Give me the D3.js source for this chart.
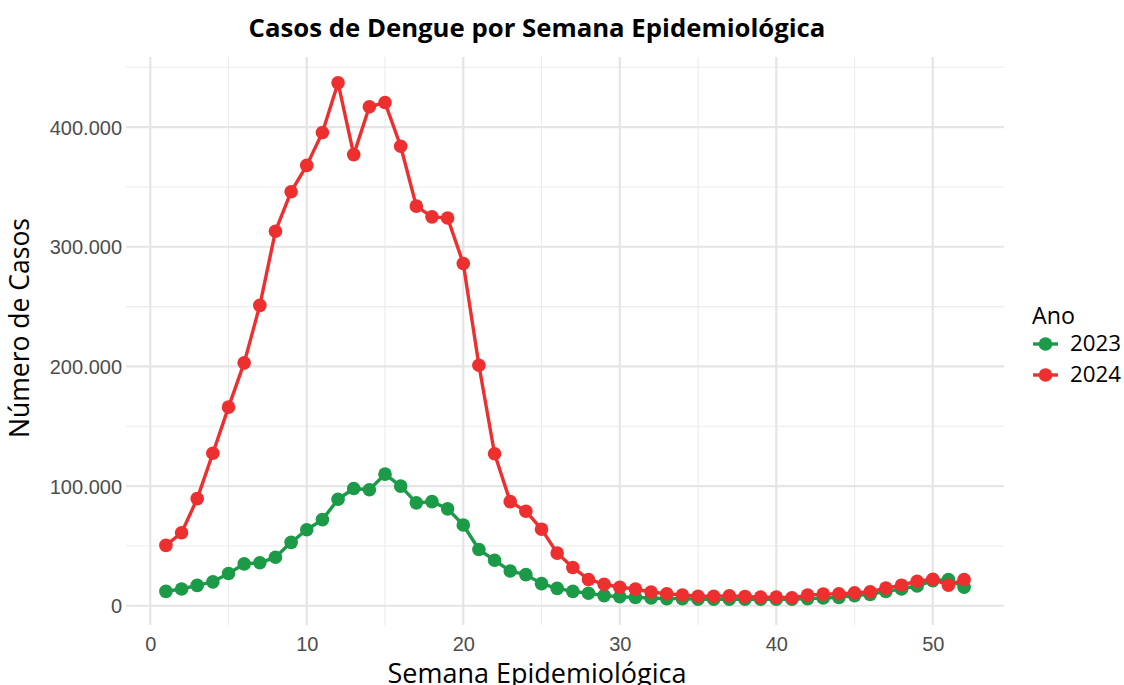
<!DOCTYPE html>
<html><head><meta charset="utf-8">
<script src="https://cdn.jsdelivr.net/npm/d3@7"></script>
<style>body{margin:0;background:#fff}svg{display:block}</style>
</head><body>
<script>
const weeks = d3.range(1, 53);
const cases2023 = [12000,14000,17000,20000,27000,35000,36000,40500,53000,63500,72000,89000,98000,97000,110000,100000,86000,87000,81000,67500,47000,38000,29000,26000,18500,14500,12000,10500,8500,7500,7000,6500,6000,6000,5500,5500,5500,5500,5500,5500,5500,6000,6500,7000,8500,9500,12000,14000,16500,21000,22000,15500];
const cases2024 = [50500,61000,89500,127500,166000,203000,251000,313000,346000,368000,395500,437000,377000,417000,420500,384000,334000,325000,324000,286000,201000,127000,87000,79000,64000,44000,32000,22000,18000,15500,14000,11500,10000,9000,8000,8000,8300,7800,7200,7200,6700,8900,9700,10000,10800,11700,14700,17200,20500,22200,17200,21900];
const years = ["2023", "2024"];
const colors = ["#1B9A48", "#EE2F2F"];
const xTicks = [0, 10, 20, 30, 40, 50];
const yTicks = [0, 100000, 200000, 300000, 400000];
const titleText = "Casos de Dengue por Semana Epidemiológica";
const xTitle = "Semana Epidemiológica";
const yTitle = "Número de Casos";
const legendTitle = "Ano";

(function () {
const W = 1124, H = 685;
const svg = d3.select("body").append("svg").attr("width", W).attr("height", H);
const pL = 126, pR = 1004, pT = 57, pB = 625;
const cx = 537;

function fit(sel, target) {
  const n = sel.node();
  const fs = parseFloat(sel.attr("font-size"));
  const w = n.getComputedTextLength();
  if (w > 0) sel.attr("font-size", (fs * target / w).toFixed(2));
}

const xmin = 1, xmax = 52;
const xe = (xmax - xmin) * 0.05;
const x = d3.scaleLinear().domain([xmin - xe, xmax + xe]).range([pL, pR]);
const allVals = cases2023.concat(cases2024);
const ymin = d3.min(allVals), ymax = d3.max(allVals);
const ye = (ymax - ymin) * 0.05;
const y = d3.scaleLinear().domain([ymin - ye, ymax + ye]).range([pB, pT]);

const grid = svg.append("g");
[5,15,25,35,45].forEach(v => grid.append("line").attr("x1", x(v)).attr("x2", x(v)).attr("y1", pT).attr("y2", pB).attr("stroke", "#EBEBEB").attr("stroke-width", 1.1));
[50000,150000,250000,350000,450000].filter(v => v <= y.domain()[1]).forEach(v => grid.append("line").attr("x1", pL).attr("x2", pR).attr("y1", y(v)).attr("y2", y(v)).attr("stroke", "#EBEBEB").attr("stroke-width", 1.1));
xTicks.forEach(v => grid.append("line").attr("x1", x(v)).attr("x2", x(v)).attr("y1", pT).attr("y2", pB).attr("stroke", "#E5E5E5").attr("stroke-width", 2.2));
yTicks.forEach(v => grid.append("line").attr("x1", pL).attr("x2", pR).attr("y1", y(v)).attr("y2", y(v)).attr("stroke", "#E5E5E5").attr("stroke-width", 2.2));

const tickFont = "Liberation Sans, Arial, sans-serif";
const fmt = v => v === 0 ? "0" : d3.format(",")(v).replace(/,/g, ".");
const yAxis = svg.append("g").attr("transform", `translate(${pL - 4},0)`)
  .call(d3.axisLeft(y).tickValues(yTicks).tickFormat(fmt).tickSize(0).tickPadding(0));
yAxis.select(".domain").remove();
yAxis.selectAll("text").attr("font-family", tickFont).attr("font-size", 20).attr("fill", "#4D4D4D").attr("dy", "0.36em");

const xAxis = svg.append("g").attr("transform", `translate(0,${pB})`)
  .call(d3.axisBottom(x).tickValues(xTicks).tickFormat(d3.format("d")).tickSize(0).tickPadding(12));
xAxis.select(".domain").remove();
xAxis.selectAll("text").attr("font-family", tickFont).attr("font-size", 20).attr("fill", "#4D4D4D");

const series = [cases2023, cases2024];
const line = d3.line().x((d, i) => x(weeks[i])).y(d => y(d));
series.forEach((s, k) => {
  svg.append("path").datum(s).attr("d", line).attr("fill", "none").attr("stroke", colors[k]).attr("stroke-width", 3.4).attr("stroke-linejoin", "round");
  svg.append("g").selectAll("circle").data(s).join("circle")
    .attr("cx", (d, i) => x(weeks[i])).attr("cy", d => y(d)).attr("r", 6.8).attr("fill", colors[k]);
});

const tf = "'Open Sans', Inter, sans-serif";
const t = svg.append("text").attr("x", cx).attr("y", 37).attr("text-anchor", "middle")
  .attr("font-family", tf).attr("font-weight", 700).attr("font-size", 21).attr("fill", "#000").text(titleText);
fit(t, 577);
const xt = svg.append("text").attr("x", cx).attr("y", 683).attr("text-anchor", "middle")
  .attr("font-family", tf).attr("font-size", 22).attr("fill", "#000").text(xTitle);
fit(xt, 299);
const yt = svg.append("text").attr("transform", `translate(29,328) rotate(-90)`).attr("text-anchor", "middle")
  .attr("font-family", tf).attr("font-size", 22).attr("fill", "#000").text(yTitle);
fit(yt, 220);

const lg = svg.append("g");
const lt = lg.append("text").attr("x", 1032).attr("y", 324).attr("font-family", tf).attr("font-size", 19).attr("fill", "#000").text(legendTitle);
fit(lt, 43);
years.forEach((yr, k) => {
  const cy = 344 + k * 31;
  lg.append("line").attr("x1", 1033).attr("x2", 1058).attr("y1", cy).attr("y2", cy).attr("stroke", colors[k]).attr("stroke-width", 3.4);
  lg.append("circle").attr("cx", 1045.5).attr("cy", cy).attr("r", 6.8).attr("fill", colors[k]);
  const tx = lg.append("text").attr("x", 1070).attr("y", cy + 7).attr("font-family", tf).attr("font-size", 19).attr("fill", "#000").text(yr);
  fit(tx, 51);
});
})();
</script>
</body></html>
